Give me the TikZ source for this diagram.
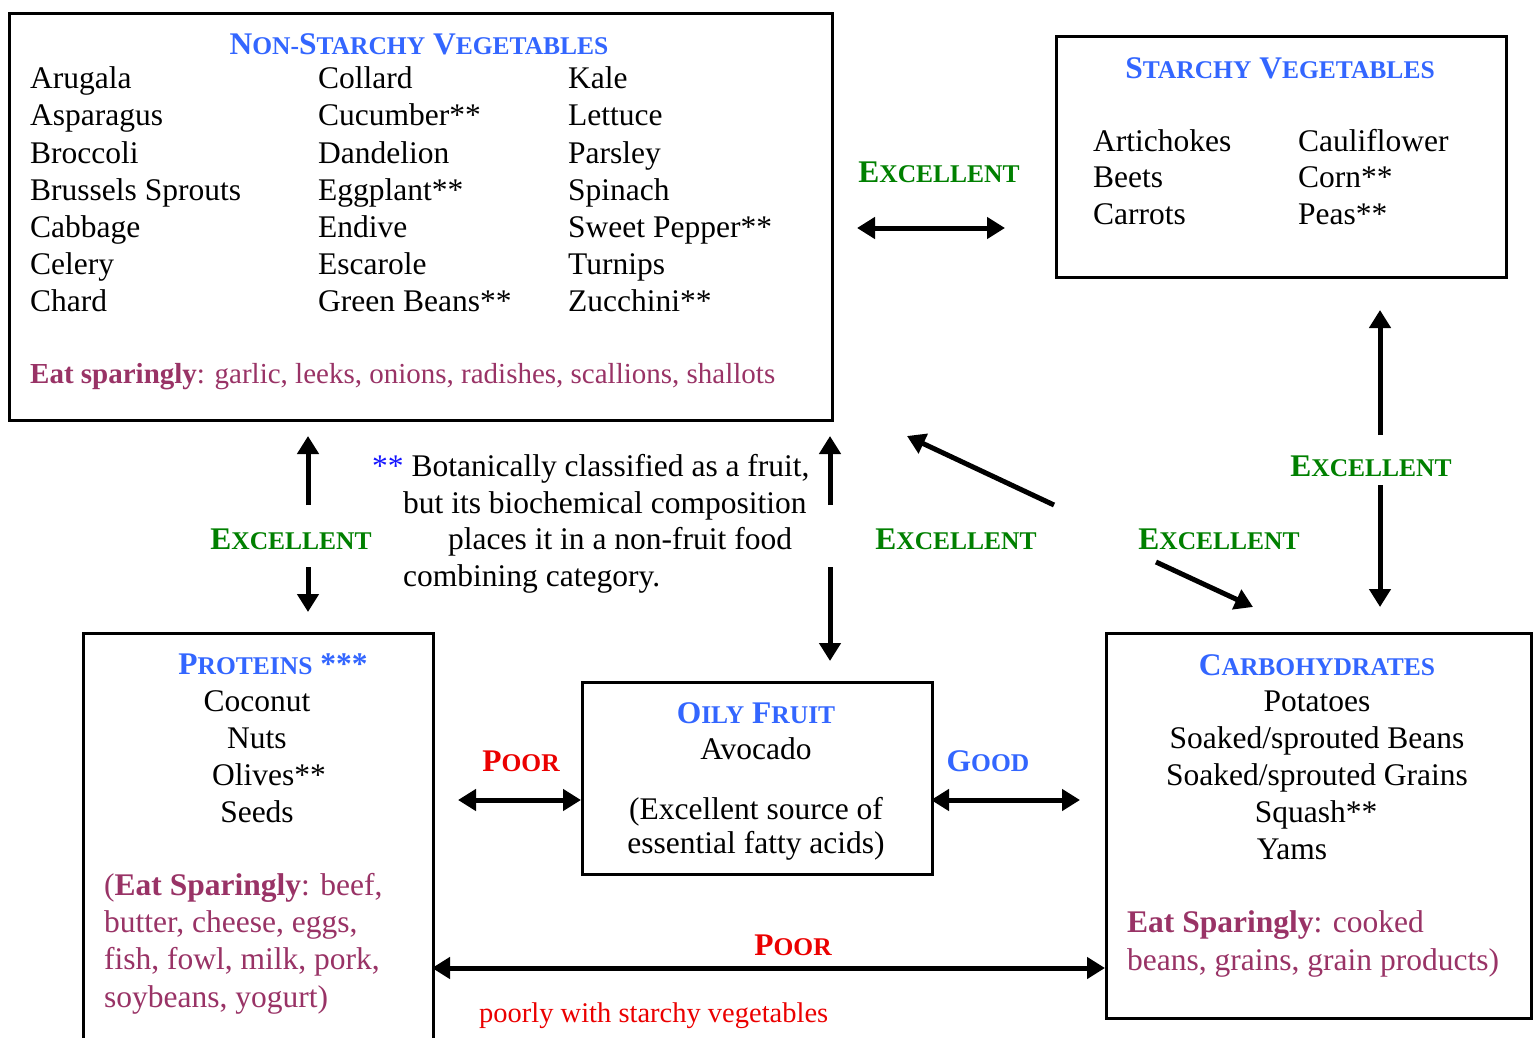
\documentclass[tikz,border=0pt]{standalone}
\usepackage{fontspec}
\setmainfont{Liberation Serif}
\usetikzlibrary{arrows.meta}
\definecolor{hblue}{RGB}{51,102,255}
\definecolor{fblue}{RGB}{20,20,255}
\definecolor{egreen}{RGB}{0,128,0}
\definecolor{pred}{RGB}{235,0,0}
\definecolor{maroon}{RGB}{153,51,102}
\newcommand\hsc[2]{{\fontsize{31.5}{37}\selectfont #1}{\fontsize{25.5}{30}\selectfont #2}}
\newcommand\bigf{\fontsize{31.5}{37}\selectfont}
\begin{document}
\begin{tikzpicture}[x=1pt,y=-1pt,
  boxn/.style={draw,line width=3pt,anchor=north west,inner sep=0pt},
  txt/.style={inner sep=0pt,anchor=base west,font=\bigf},
  ctxt/.style={inner sep=0pt,anchor=base,font=\bigf},
  head/.style={inner sep=0pt,anchor=base,text=hblue,font=\bfseries\bigf},
  lbl/.style={inner sep=0pt,anchor=base,font=\bfseries\bigf},
  arr/.style={line width=5pt,-{Triangle[length=18pt,width=21pt]}},
  darr/.style={line width=5pt,{Triangle[length=18pt,width=21pt]}-{Triangle[length=18pt,width=21pt]}}]
\clip (0,0) rectangle (1533,1038);
\fill[white] (0,0) rectangle (1533,1038);

% boxes
\node[boxn,minimum width=823pt,minimum height=407pt] (nsv) at (8,12) {};
\node[boxn,minimum width=450pt,minimum height=241pt] (sv) at (1055,35) {};
\node[boxn,minimum width=350pt,minimum height=440pt] (pro) at (82,632) {};
\node[boxn,minimum width=350pt,minimum height=192pt] (oil) at (581,681) {};
\node[boxn,minimum width=425pt,minimum height=385pt] (carb) at (1105,632) {};

% Non-starchy vegetables
\node[head] (nsvt) at (419,55) {\hsc{N}{ON-}\hsc{S}{TARCHY} \hsc{V}{EGETABLES}};
\node[txt] (n11) at (30,89) {Arugala};
\node[txt] (n12) at (30,126) {Asparagus};
\node[txt] (n13) at (30,163) {Broccoli};
\node[txt] (n14) at (30,200) {Brussels Sprouts};
\node[txt] (n15) at (30,237) {Cabbage};
\node[txt] (n16) at (30,274) {Celery};
\node[txt] (n17) at (30,311) {Chard};
\node[txt] (n21) at (318,89) {Collard};
\node[txt] (n22) at (318,126) {Cucumber**};
\node[txt] (n23) at (318,163) {Dandelion};
\node[txt] (n24) at (318,200) {Eggplant**};
\node[txt] (n25) at (318,237) {Endive};
\node[txt] (n26) at (318,274) {Escarole};
\node[txt] (n27) at (318,311) {Green Beans**};
\node[txt] (n31) at (568,89) {Kale};
\node[txt] (n32) at (568,126) {Lettuce};
\node[txt] (n33) at (568,163) {Parsley};
\node[txt] (n34) at (568,200) {Spinach};
\node[txt] (n35) at (568,237) {Sweet Pepper**};
\node[txt] (n36) at (568,274) {Turnips};
\node[txt] (n37) at (568,311) {Zucchini**};
\node[txt,font=\fontsize{29}{35}\selectfont,text=maroon] (nsve) at (30,383) {\textbf{Eat sparingly}: garlic, leeks, onions, radishes, scallions, shallots};

% Starchy vegetables
\node[head] (svt) at (1280,79) {\hsc{S}{TARCHY} \hsc{V}{EGETABLES}};
\node[txt] (s11) at (1093,151) {Artichokes};
\node[txt] (s12) at (1093,187) {Beets};
\node[txt] (s13) at (1093,224) {Carrots};
\node[txt] (s21) at (1298,151) {Cauliflower};
\node[txt] (s22) at (1298,187) {Corn**};
\node[txt] (s23) at (1298,224) {Peas**};

% Proteins
\node[head] (prot) at (273,674) {\hsc{P}{ROTEINS} ***};
\node[ctxt] (p1) at (257,711) {Coconut};
\node[ctxt] (p2) at (257,748) {Nuts};
\node[ctxt] (p3) at (269,785) {Olives**};
\node[ctxt] (p4) at (257,822) {Seeds};
\node[txt,text=maroon] (pe1) at (104,895) {(\textbf{Eat Sparingly}: beef,};
\node[txt,text=maroon] (pe2) at (104,932) {butter, cheese, eggs,};
\node[txt,text=maroon] (pe3) at (104,969) {fish, fowl, milk, pork,};
\node[txt,text=maroon] (pe4) at (104,1007) {soybeans, yogurt)};

% Oily fruit
\node[head] (oilt) at (756,723) {\hsc{O}{ILY} \hsc{F}{RUIT}};
\node[ctxt] (o1) at (756,759) {Avocado};
\node[ctxt] (o2) at (756,819) {(Excellent source of};
\node[ctxt] (o3) at (756,853) {essential fatty acids)};

% Carbohydrates
\node[head] (carbt) at (1317,675) {\hsc{C}{ARBOHYDRATES}};
\node[ctxt] (c1) at (1317,711) {Potatoes};
\node[ctxt] (c2) at (1317,748) {Soaked/sprouted Beans};
\node[ctxt] (c3) at (1317,785) {Soaked/sprouted Grains};
\node[ctxt] (c4) at (1316,822) {Squash**};
\node[ctxt] (c5) at (1292,859) {Yams};
\node[txt,text=maroon] (ce1) at (1127,932) {\textbf{Eat Sparingly}: cooked};
\node[txt,text=maroon] (ce2) at (1127,970) {beans, grains, grain products)};

% footnote
\node[txt] (f1) at (372,476) {\textcolor{fblue}{**} Botanically classified as a fruit,};
\node[txt] (f2) at (403,513) {but its biochemical composition};
\node[txt] (f3) at (448,549) {places it in a non-fruit food};
\node[txt] (f4) at (403,586) {combining category.};

% labels
\node[lbl,text=egreen] (ex1) at (939,182) {\hsc{E}{XCELLENT}};
\node[lbl,text=egreen] (ex2) at (291,549) {\hsc{E}{XCELLENT}};
\node[lbl,text=egreen] (ex3) at (956,549) {\hsc{E}{XCELLENT}};
\node[lbl,text=egreen] (ex4) at (1219,549) {\hsc{E}{XCELLENT}};
\node[lbl,text=egreen] (ex5) at (1371,476) {\hsc{E}{XCELLENT}};
\node[lbl,text=pred] (po1) at (521,771) {\hsc{P}{OOR}};
\node[lbl,text=hblue] (go1) at (988,771) {\hsc{G}{OOD}};
\node[lbl,text=pred] (po2) at (793,955) {\hsc{P}{OOR}};
\node[txt,font=\fontsize{28.5}{34}\selectfont,text=pred] (pw) at (479,1022) {poorly with starchy vegetables};

% arrow end points
\coordinate (a1a) at (857,228); \coordinate (a1b) at (1005,228);
\coordinate (a2a) at (308,505); \coordinate (a2b) at (308,436);
\coordinate (a3a) at (308,567); \coordinate (a3b) at (308,612);
\coordinate (a4a) at (830,505); \coordinate (a4b) at (830,436);
\coordinate (a5a) at (830,567); \coordinate (a5b) at (830,661);
\coordinate (a6a) at (1054,505); \coordinate (a6b) at (907,436);
\coordinate (a7a) at (1156,562); \coordinate (a7b) at (1253,607);
\coordinate (a8a) at (1380,435); \coordinate (a8b) at (1380,310);
\coordinate (a9a) at (1380,485); \coordinate (a9b) at (1380,607);
\coordinate (a10a) at (458,800); \coordinate (a10b) at (581,800);
\coordinate (a11a) at (931,800); \coordinate (a11b) at (1080,800);
\coordinate (a12a) at (432,968); \coordinate (a12b) at (1105,968);

\draw[darr] (a1a) -- (a1b);
\draw[arr] (a2a) -- (a2b);
\draw[arr] (a3a) -- (a3b);
\draw[arr] (a4a) -- (a4b);
\draw[arr] (a5a) -- (a5b);
\draw[arr] (a6a) -- (a6b);
\draw[arr] (a7a) -- (a7b);
\draw[arr] (a8a) -- (a8b);
\draw[arr] (a9a) -- (a9b);
\draw[darr] (a10a) -- (a10b);
\draw[darr] (a11a) -- (a11b);
\draw[darr] (a12a) -- (a12b);
\end{tikzpicture}
\end{document}
